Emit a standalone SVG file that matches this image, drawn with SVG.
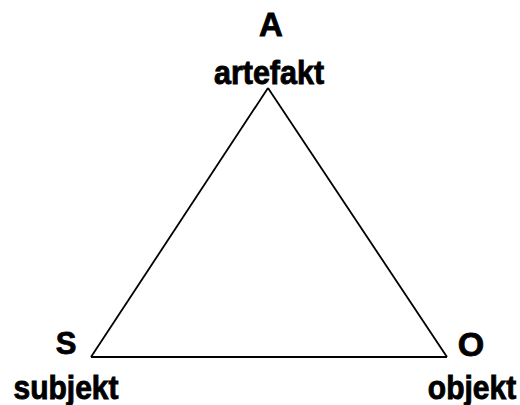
<svg xmlns="http://www.w3.org/2000/svg" width="520" height="405" viewBox="0 0 520 405">
<style>
text{font-family:"Liberation Sans",Arial,sans-serif;font-weight:bold;font-size:30px;fill:#000;stroke:#000;stroke-width:0.8;text-anchor:middle}
.edge{stroke:#000;stroke-width:1.8;fill:none}
</style>
<rect width="520" height="405" fill="#fff"/>
<g id="connectors">
<line class="edge" x1="268" y1="88" x2="91" y2="357"/>
<line class="edge" x1="268" y1="88" x2="447" y2="357"/>
<line class="edge" x1="91" y1="357" x2="447" y2="357"/>
</g>
<g id="node-A">
<text x="271" y="36" style="font-size:33px">A</text>
<text transform="translate(269,84) scale(1,1.08)" style="font-size:30.5px">artefakt</text>
</g>
<g id="node-S">
<text x="66" y="354" style="font-size:31px">S</text>
<text transform="translate(66,399) scale(1,1.12)">subjekt</text>
</g>
<g id="node-O">
<text x="471" y="356" style="font-size:34px">O</text>
<text transform="translate(472,399) scale(1,1.12)">objekt</text>
</g>
</svg>
